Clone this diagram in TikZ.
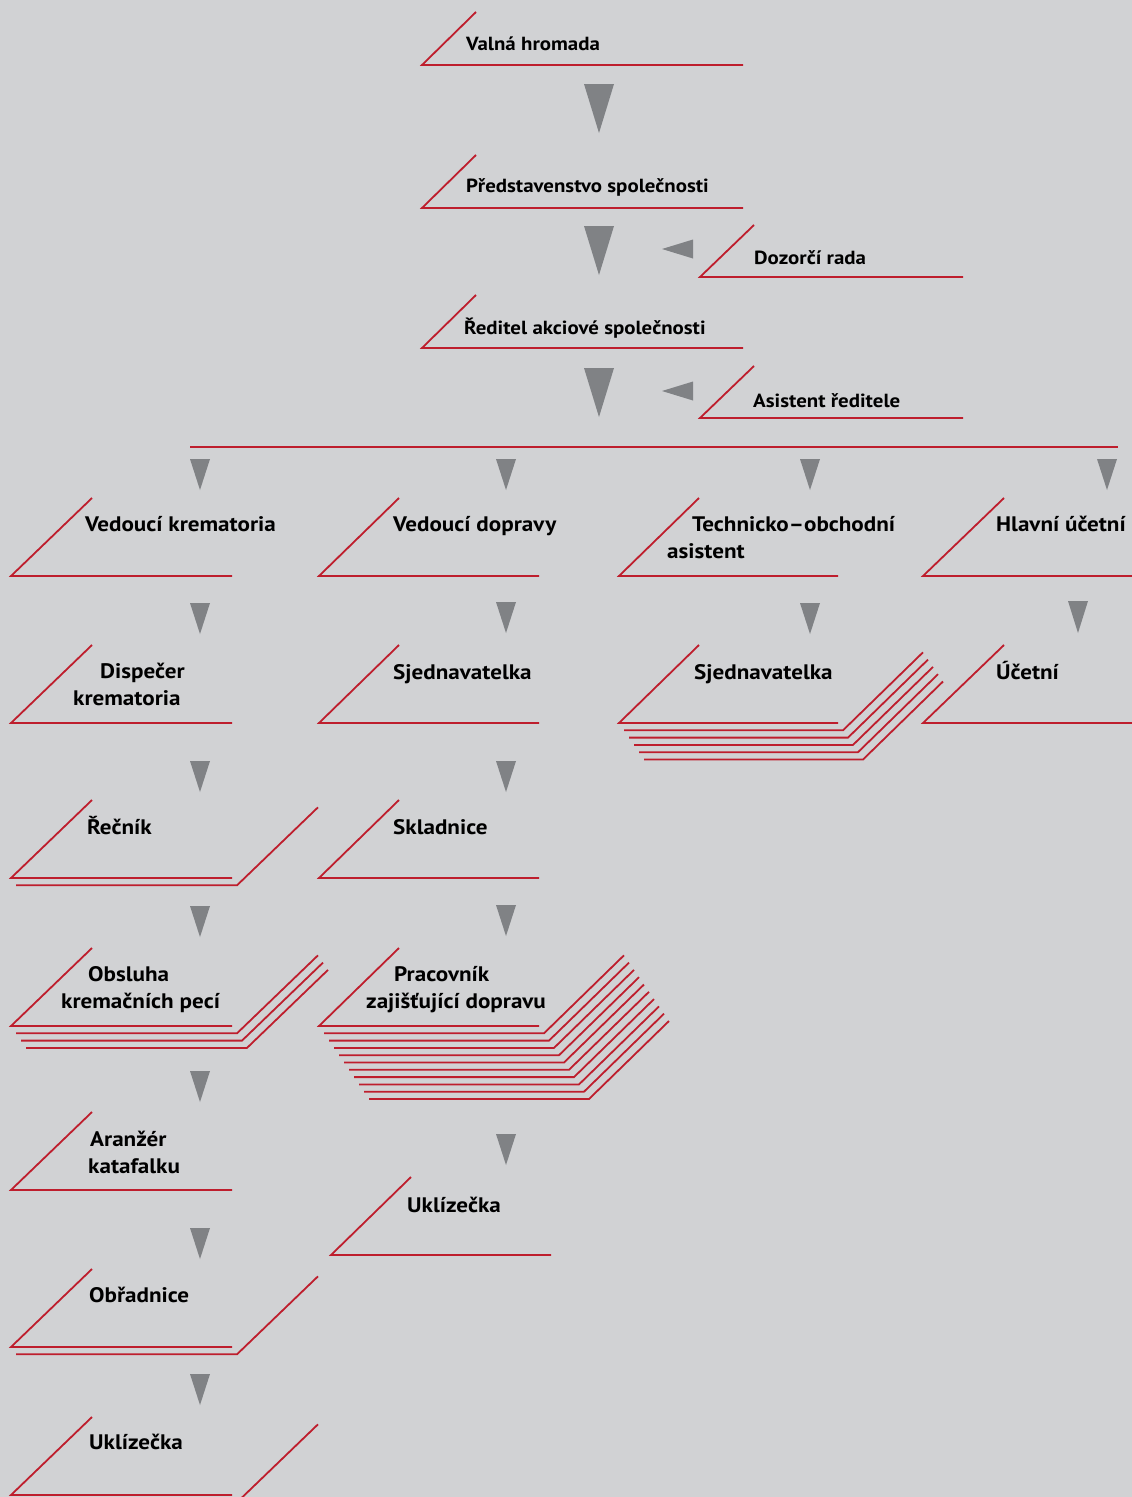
\documentclass[tikz,border=0pt]{standalone}
\usepackage{fontspec}
\setmainfont{PT Sans}[FakeStretch=1.1]
\usetikzlibrary{positioning}
\definecolor{pozadi}{HTML}{D1D2D4}
\definecolor{cervena}{HTML}{BE1E2D}
\definecolor{seda}{HTML}{808285}

\begin{document}
\begin{tikzpicture}
  [x=1pt,y=-1pt,%坐标以像素为单位,y 轴向下
   rline/.style={draw=cervena,line width=1.8pt},%红色线条
   txt/.style={anchor=base west,inner sep=0pt,font=\bfseries\fontsize{21}{27}\selectfont},%职位名称
   top txt/.style={txt,font=\bfseries\fontsize{19}{24}\selectfont},%上部职位名称
   pics/post/.style n args={4}{code={%宽度、斜边 dx、斜边 dy、叠加层数
       \draw[rline] (#2,-#3) -- (0,0) -- (#1,0);
       \ifnum#4>0
         \foreach \k in {1,...,#4}
           \draw[rline] (5*\k,7.3*\k) -- ++(#1,0) -- ++(#2,-#3);
       \fi}},
   pics/down/.style 2 args={code={\fill[seda] (-#1/2,0) -- (#1/2,0) -- (0,#2) -- cycle;}},%向下的三角形
   pics/left/.style={code={\fill[seda] (0,0) -- (31,-9.5) -- (31,9.5) -- cycle;}}]%向左的三角形

  \path[use as bounding box,fill=pozadi] (0,0) rectangle (1132,1497);
  \clip (0,0) rectangle (1132,1497);

  % 上部:管理层
  \pic at (422,65)  {post={321}{54}{53}{0}};
  \pic at (422,208) {post={321}{54}{53}{0}};
  \pic at (422,348) {post={321}{54}{53}{0}};
  \pic at (700,277) {post={263}{54}{52}{0}};
  \pic at (700,418) {post={263}{54}{52}{0}};

  \node[top txt] (vh)  at (466,50)  {Valná hromada};
  \node[top txt] (ps)  at (466,192) {Představenstvo společnosti};
  \node[top txt] (dr)  at (754,264) {Dozorčí rada};
  \node[top txt] (red) at (464,334) {Ředitel akciové společnosti};
  \node[top txt] (as)  at (753,407) {Asistent ředitele};

  \foreach \y in {84,226,368}
    \pic at (599,\y) {down={30}{49}};
  \pic at (662,249) {left};
  \pic at (662,391) {left};

  \draw[rline,line width=1.4pt] (190,447) -- (1118,447);%横向分支线
  \foreach \x in {200,506,810,1107}
    \pic at (\x,459) {down={20}{31}};

  % 第一列:火葬场
  \pic at (11,576)  {post={221}{81}{78}{0}};
  \pic at (11,723)  {post={221}{81}{78}{0}};
  \pic at (11,878)  {post={221}{81}{78}{1}};
  \pic at (11,1026) {post={221}{81}{78}{3}};
  \pic at (11,1190) {post={221}{81}{78}{0}};
  \pic at (11,1347) {post={221}{81}{78}{1}};
  \pic at (11,1495) {post={221}{81}{78}{1}};
  \foreach \y in {603,761,906,1071,1228,1374}
    \pic at (200,\y) {down={20}{31}};

  \node[txt] (vk)   at (85,531)  {Vedoucí krematoria};
  \node[txt,align=left] (dk) at (73,705) {\hspace*{27pt}Dispečer\\krematoria};
  \node[txt] (rec)  at (87,834)  {Řečník};
  \node[txt,align=left] (obs) at (61,1008) {\hspace*{27pt}Obsluha\\kremačních pecí};
  \node[txt,align=left] (ar)  at (88,1173) {\hspace*{2pt}Aranžér\\katafalku};
  \node[txt] (obr)  at (89,1302) {Obřadnice};
  \node[txt] (ukl1) at (89,1449) {Uklízečka};

  % 第二列:运输
  \pic at (319,576)  {post={220}{80}{78}{0}};
  \pic at (319,723)  {post={220}{80}{78}{0}};
  \pic at (319,878)  {post={220}{80}{78}{0}};
  \pic at (319,1026) {post={220}{80}{78}{10}};
  \pic at (331,1255) {post={220}{80}{78}{0}};
  \foreach \y in {602,761,905,1134}
    \pic at (506,\y) {down={20}{31}};

  \node[txt] (vd)   at (393,531)  {Vedoucí dopravy};
  \node[txt] (sj1)  at (393,679)  {Sjednavatelka};
  \node[txt] (skl)  at (393,834)  {Skladnice};
  \node[txt,align=left] (prac) at (366,1008) {\hspace*{28pt}Pracovník\\zajišťující dopravu};
  \node[txt] (ukl2) at (407,1212) {Uklízečka};

  % 第三列和第四列
  \pic at (619,576) {post={219}{80}{78}{0}};
  \pic at (619,723) {post={219}{80}{78}{5}};
  \pic at (810,603) {down={20}{31}};
  \node[txt,align=left] (toa) at (667,558) {\hspace*{25pt}Technicko–obchodní\\asistent};
  \node[txt] (sj2)  at (694,679)  {Sjednavatelka};

  \pic at (923,576) {post={221}{81}{78}{0}};
  \pic at (923,723) {post={221}{81}{78}{0}};
  \pic at (1078,601) {down={20}{32}};
  \node[txt] (hu) at (996,531) {Hlavní účetní};
  \node[txt] (uc) at (996,679) {Účetní};

\end{tikzpicture}
\end{document}
